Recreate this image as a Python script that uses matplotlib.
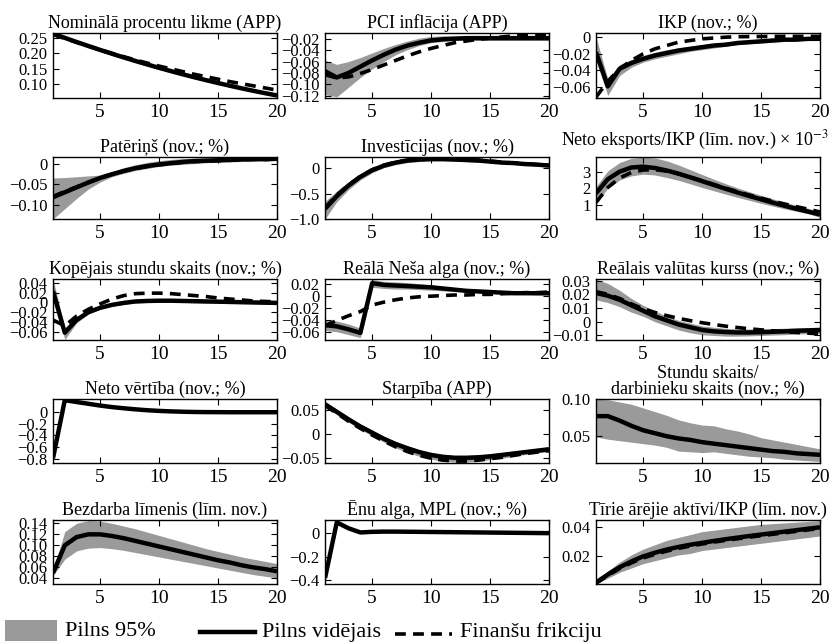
import matplotlib
matplotlib.use("Agg")
import matplotlib.pyplot as plt
from matplotlib.patches import Rectangle
from matplotlib.lines import Line2D

plt.rcParams["font.family"] = ["Liberation Serif", "DejaVu Serif"]
plt.rcParams["mathtext.fontset"] = "stix"

quarters = list(range(1, 21))

# ---- Nominālā procentu likme ----
rate_mean = [0.265, 0.251, 0.2374, 0.2242, 0.2113, 0.1988, 0.1866, 0.1748, 0.1634, 0.1523,
             0.1416, 0.1312, 0.1212, 0.1116, 0.1023, 0.0934, 0.0848, 0.0766, 0.0688, 0.0613]
rate_lo = [0.262, 0.247, 0.233, 0.219, 0.206, 0.193, 0.181, 0.169, 0.158, 0.147,
           0.136, 0.126, 0.116, 0.107, 0.098, 0.089, 0.081, 0.073, 0.065, 0.057]
rate_hi = [0.266, 0.253, 0.240, 0.227, 0.214, 0.202, 0.190, 0.178, 0.167, 0.156,
           0.145, 0.135, 0.125, 0.116, 0.107, 0.098, 0.090, 0.082, 0.074, 0.066]
rate_ff = [0.262, 0.249, 0.236, 0.224, 0.212, 0.200, 0.189, 0.178, 0.168, 0.158,
           0.149, 0.140, 0.131, 0.123, 0.115, 0.107, 0.100, 0.093, 0.086, 0.079]

# ---- PCI inflācija ----
infl_mean = [-0.077, -0.088, -0.080, -0.069, -0.058, -0.048, -0.039, -0.032, -0.027, -0.023,
             -0.021, -0.020, -0.019, -0.019, -0.019, -0.019, -0.019, -0.019, -0.019, -0.019]
infl_lo = [-0.118, -0.122, -0.105, -0.088, -0.073, -0.060, -0.048, -0.039, -0.032, -0.027,
           -0.025, -0.023, -0.023, -0.023, -0.023, -0.023, -0.023, -0.023, -0.023, -0.023]
infl_hi = [-0.058, -0.065, -0.060, -0.053, -0.045, -0.037, -0.030, -0.024, -0.019, -0.016,
           -0.015, -0.015, -0.015, -0.015, -0.015, -0.016, -0.016, -0.016, -0.016, -0.016]
infl_ff = [-0.083, -0.089, -0.087, -0.081, -0.074, -0.066, -0.058, -0.050, -0.043, -0.037,
           -0.032, -0.027, -0.024, -0.021, -0.019, -0.017, -0.015, -0.014, -0.013, -0.012]

# ---- IKP ----
gdp_mean = [-0.018, -0.059, -0.038, -0.031, -0.026, -0.022, -0.019, -0.016, -0.014, -0.012,
            -0.010, -0.009, -0.007, -0.006, -0.005, -0.004, -0.003, -0.003, -0.002, -0.002]
gdp_lo = [-0.028, -0.070, -0.046, -0.036, -0.030, -0.026, -0.023, -0.020, -0.017, -0.015,
          -0.013, -0.011, -0.009, -0.008, -0.007, -0.006, -0.005, -0.004, -0.004, -0.003]
gdp_hi = [0.000, -0.050, -0.033, -0.027, -0.022, -0.018, -0.015, -0.013, -0.011, -0.009,
          -0.008, -0.006, -0.005, -0.004, -0.003, -0.002, -0.002, -0.001, -0.001, -0.001]
gdp_ff = [-0.072, -0.053, -0.038, -0.028, -0.020, -0.014, -0.010, -0.006, -0.004, -0.002,
          -0.001, 0.000, 0.0005, 0.0007, 0.0008, 0.0009, 0.001, 0.001, 0.001, 0.001]

# ---- Patēriņš ----
cons_mean = [-0.082, -0.070, -0.058, -0.046, -0.035, -0.026, -0.018, -0.011, -0.006, -0.002,
             0.001, 0.004, 0.006, 0.007, 0.008, 0.009, 0.010, 0.011, 0.011, 0.012]
cons_lo = [-0.135, -0.110, -0.085, -0.062, -0.045, -0.032, -0.024, -0.017, -0.012, -0.007,
           -0.004, -0.002, 0.000, 0.002, 0.003, 0.004, 0.005, 0.006, 0.006, 0.007]
cons_hi = [-0.035, -0.034, -0.032, -0.030, -0.028, -0.020, -0.010, -0.003, 0.003, 0.007,
           0.010, 0.012, 0.013, 0.014, 0.014, 0.015, 0.015, 0.015, 0.015, 0.015]
cons_ff = [-0.080, -0.068, -0.057, -0.046, -0.035, -0.026, -0.018, -0.012, -0.007, -0.003,
           0.000, 0.003, 0.005, 0.006, 0.007, 0.008, 0.009, 0.010, 0.010, 0.011]

# ---- Investīcijas ----
inv_mean = [-0.80, -0.55, -0.34, -0.17, -0.04, 0.05, 0.11, 0.15, 0.17, 0.18,
            0.18, 0.17, 0.16, 0.15, 0.13, 0.11, 0.10, 0.08, 0.07, 0.05]
inv_lo = [-1.00, -0.66, -0.42, -0.23, -0.09, 0.01, 0.07, 0.11, 0.13, 0.14,
          0.14, 0.14, 0.13, 0.12, 0.11, 0.09, 0.08, 0.07, 0.06, 0.04]
inv_hi = [-0.65, -0.45, -0.27, -0.11, 0.01, 0.10, 0.16, 0.19, 0.21, 0.21,
          0.21, 0.20, 0.19, 0.17, 0.15, 0.13, 0.11, 0.09, 0.08, 0.06]
inv_ff = [-0.78, -0.53, -0.33, -0.16, -0.03, 0.06, 0.12, 0.16, 0.18, 0.19,
          0.19, 0.18, 0.17, 0.16, 0.14, 0.12, 0.10, 0.09, 0.07, 0.06]

# ---- Neto eksports/IKP (x 10^-3) ----
nx_mean = [1.70, 2.55, 3.00, 3.25, 3.30, 3.22, 3.07, 2.88, 2.66, 2.43,
           2.20, 1.97, 1.75, 1.54, 1.34, 1.14, 0.95, 0.77, 0.60, 0.43]
nx_lo = [1.10, 2.00, 2.50, 2.75, 2.85, 2.80, 2.65, 2.48, 2.27, 2.05,
         1.85, 1.65, 1.46, 1.28, 1.10, 0.93, 0.77, 0.62, 0.48, 0.25]
nx_hi = [2.10, 3.05, 3.55, 3.80, 3.87, 3.82, 3.65, 3.40, 3.12, 2.83,
         2.55, 2.28, 2.03, 1.80, 1.58, 1.37, 1.17, 0.98, 0.80, 0.60]
nx_ff = [1.15, 2.05, 2.62, 2.95, 3.10, 3.12, 3.03, 2.87, 2.67, 2.45,
         2.23, 2.01, 1.80, 1.60, 1.41, 1.23, 1.06, 0.90, 0.75, 0.58]

# ---- Kopējais stundu skaits ----
hrs_mean = [0.023, -0.062, -0.036, -0.020, -0.011, -0.005, -0.001, 0.002, 0.003, 0.0035,
            0.0035, 0.003, 0.0025, 0.002, 0.0015, 0.001, 0.0005, 0.0, -0.0005, -0.001]
hrs_lo = [0.015, -0.076, -0.042, -0.024, -0.014, -0.008, -0.004, -0.001, 0.000, 0.0005,
          0.0005, 0.000, -0.0005, -0.001, -0.0015, -0.002, -0.0025, -0.003, -0.0035, -0.004]
hrs_hi = [0.048, -0.052, -0.030, -0.016, -0.008, -0.002, 0.002, 0.005, 0.006, 0.0065,
          0.0065, 0.006, 0.0055, 0.005, 0.0045, 0.004, 0.0035, 0.003, 0.0025, 0.002]
hrs_ff = [-0.036, -0.048, -0.028, -0.014, -0.003, 0.007, 0.014, 0.018, 0.019, 0.019,
          0.018, 0.016, 0.014, 0.012, 0.009, 0.007, 0.005, 0.003, 0.002, 0.001]

# ---- Reālā Neša alga ----
wage_mean = [-0.049, -0.051, -0.056, -0.062, 0.022, 0.019, 0.018, 0.017, 0.016, 0.015,
             0.013, 0.011, 0.009, 0.008, 0.007, 0.006, 0.005, 0.005, 0.005, 0.005]
wage_lo = [-0.058, -0.060, -0.065, -0.070, 0.015, 0.013, 0.012, 0.012, 0.011, 0.010,
           0.009, 0.008, 0.007, 0.006, 0.005, 0.004, 0.003, 0.003, 0.002, 0.002]
wage_hi = [-0.040, -0.042, -0.047, -0.054, 0.028, 0.025, 0.024, 0.023, 0.021, 0.019,
           0.016, 0.014, 0.012, 0.010, 0.009, 0.008, 0.007, 0.007, 0.007, 0.008]
wage_ff = [-0.050, -0.041, -0.033, -0.026, -0.015, -0.010, -0.006, -0.003, -0.001, 0.000,
           0.001, 0.002, 0.002, 0.003, 0.003, 0.004, 0.005, 0.006, 0.006, 0.007]

# ---- Reālais valūtas kurss ----
rer_mean = [0.021, 0.019, 0.016, 0.012, 0.008, 0.004, 0.001, -0.002, -0.004, -0.006,
            -0.007, -0.0075, -0.0078, -0.0078, -0.0076, -0.0073, -0.007, -0.0066, -0.0063, -0.006]
rer_lo = [0.016, 0.014, 0.011, 0.007, 0.004, 0.000, -0.003, -0.006, -0.008, -0.0095,
          -0.010, -0.0105, -0.0105, -0.0103, -0.010, -0.0097, -0.0094, -0.009, -0.0087, -0.0085]
rer_hi = [0.031, 0.028, 0.023, 0.017, 0.012, 0.008, 0.004, 0.001, -0.001, -0.003,
          -0.004, -0.0048, -0.0052, -0.0053, -0.0052, -0.005, -0.0047, -0.0044, -0.0042, -0.004]
rer_ff = [0.022, 0.020, 0.017, 0.013, 0.0095, 0.0068, 0.0045, 0.0025, 0.0008, -0.0007,
          -0.002, -0.0032, -0.0042, -0.0051, -0.0059, -0.0066, -0.0072, -0.0078, -0.0083, -0.0088]

# ---- Neto vērtība ----
nw_mean = [-0.78, 0.19, 0.16, 0.13, 0.10, 0.075, 0.055, 0.037, 0.022, 0.011,
           0.003, -0.003, -0.007, -0.009, -0.010, -0.011, -0.011, -0.011, -0.011, -0.011]

# ---- Starpība ----
spr_mean = [0.063, 0.047, 0.031, 0.016, 0.003, -0.010, -0.021, -0.030, -0.038, -0.044,
            -0.048, -0.050, -0.050, -0.049, -0.047, -0.044, -0.041, -0.038, -0.035, -0.032]
spr_lo = [0.057, 0.041, 0.025, 0.010, -0.004, -0.017, -0.029, -0.039, -0.047, -0.053,
          -0.057, -0.059, -0.059, -0.057, -0.054, -0.051, -0.047, -0.043, -0.040, -0.037]
spr_hi = [0.068, 0.052, 0.036, 0.021, 0.008, -0.005, -0.016, -0.025, -0.033, -0.039,
          -0.043, -0.045, -0.045, -0.044, -0.042, -0.039, -0.036, -0.033, -0.030, -0.027]
spr_ff = [0.060, 0.044, 0.027, 0.012, -0.002, -0.015, -0.027, -0.037, -0.045, -0.051,
          -0.055, -0.057, -0.057, -0.055, -0.052, -0.049, -0.045, -0.041, -0.038, -0.035]

# ---- Stundu skaits / darbinieku skaits ----
hpw_mean = [0.077, 0.077, 0.071, 0.064, 0.058, 0.054, 0.050, 0.047, 0.045, 0.042,
            0.040, 0.038, 0.036, 0.034, 0.032, 0.030, 0.029, 0.027, 0.026, 0.025]
hpw_lo = [0.049, 0.046, 0.044, 0.042, 0.040, 0.038, 0.035, 0.030, 0.029, 0.028,
          0.029, 0.027, 0.025, 0.023, 0.022, 0.021, 0.019, 0.018, 0.017, 0.016]
hpw_hi = [0.100, 0.099, 0.096, 0.093, 0.088, 0.083, 0.078, 0.072, 0.068, 0.065,
          0.064, 0.060, 0.057, 0.053, 0.048, 0.045, 0.042, 0.039, 0.036, 0.033]

# ---- Bezdarba līmenis ----
une_mean = [0.050, 0.100, 0.115, 0.120, 0.120, 0.117, 0.113, 0.108, 0.103, 0.098,
            0.093, 0.088, 0.083, 0.078, 0.073, 0.069, 0.064, 0.060, 0.057, 0.053]
une_lo = [0.045, 0.075, 0.090, 0.095, 0.096, 0.094, 0.091, 0.087, 0.083, 0.079,
          0.075, 0.071, 0.067, 0.063, 0.059, 0.055, 0.051, 0.047, 0.044, 0.041]
une_hi = [0.055, 0.125, 0.140, 0.145, 0.144, 0.140, 0.135, 0.130, 0.124, 0.118,
          0.112, 0.106, 0.100, 0.094, 0.089, 0.084, 0.079, 0.075, 0.071, 0.067]

# ---- Ēnu alga, MPL ----
mpl_mean = [-0.38, 0.09, 0.04, 0.005, 0.010, 0.012, 0.012, 0.011, 0.010, 0.009,
            0.008, 0.007, 0.006, 0.005, 0.004, 0.003, 0.002, 0.001, 0.000, -0.001]

# ---- Tīrie ārējie aktīvi/IKP ----
nfa_mean = [0.002, 0.0075, 0.0125, 0.0165, 0.0200, 0.0225, 0.0247, 0.0265, 0.0280, 0.0293,
            0.0306, 0.0318, 0.0329, 0.0340, 0.0350, 0.0360, 0.0370, 0.0380, 0.0390, 0.0400]
nfa_lo = [0.001, 0.005, 0.009, 0.012, 0.015, 0.017, 0.019, 0.021, 0.022, 0.024,
          0.025, 0.026, 0.027, 0.028, 0.029, 0.030, 0.031, 0.032, 0.033, 0.034]
nfa_hi = [0.003, 0.010, 0.016, 0.021, 0.025, 0.028, 0.031, 0.033, 0.035, 0.037,
          0.038, 0.039, 0.040, 0.041, 0.042, 0.0425, 0.043, 0.0435, 0.044, 0.0445]
nfa_ff = [0.0015, 0.0068, 0.0116, 0.0155, 0.0189, 0.0214, 0.0236, 0.0255, 0.0271, 0.0285,
          0.0298, 0.0310, 0.0321, 0.0332, 0.0342, 0.0352, 0.0362, 0.0372, 0.0382, 0.0392]

x_ticks = [5, 10, 15, 20]

panels = [
    dict(title="Nominālā procentu likme (APP)", mean=rate_mean, lo=rate_lo, hi=rate_hi, ff=rate_ff,
         ylim=(0.053, 0.267), yticks=[0.10, 0.15, 0.20, 0.25], ylabels=["0.10", "0.15", "0.20", "0.25"]),
    dict(title="PCI inflācija (APP)", mean=infl_mean, lo=infl_lo, hi=infl_hi, ff=infl_ff,
         ylim=(-0.124, -0.010), yticks=[-0.12, -0.10, -0.08, -0.06, -0.04, -0.02],
         ylabels=["\u22120.12", "\u22120.10", "\u22120.08", "\u22120.06", "\u22120.04", "\u22120.02"]),
    dict(title="IKP (nov.; %)", mean=gdp_mean, lo=gdp_lo, hi=gdp_hi, ff=gdp_ff,
         ylim=(-0.073, 0.005), yticks=[-0.06, -0.04, -0.02, 0],
         ylabels=["\u22120.06", "\u22120.04", "\u22120.02", "0"]),
    dict(title="Patēriņš (nov.; %)", mean=cons_mean, lo=cons_lo, hi=cons_hi, ff=cons_ff,
         ylim=(-0.135, 0.016), yticks=[-0.10, -0.05, 0], ylabels=["\u22120.10", "\u22120.05", "0"]),
    dict(title="Investīcijas (nov.; %)", mean=inv_mean, lo=inv_lo, hi=inv_hi, ff=inv_ff,
         ylim=(-1.0, 0.22), yticks=[-1.0, -0.5, 0], ylabels=["\u22121.0", "\u22120.5", "0"]),
    dict(title="Neto eksports/IKP (līm. nov.) × 10$^{-3}$", mean=nx_mean, lo=nx_lo, hi=nx_hi, ff=nx_ff,
         ylim=(0.16, 3.88), yticks=[1, 2, 3], ylabels=["1", "2", "3"], title_right=829),
    dict(title="Kopējais stundu skaits (nov.; %)", mean=hrs_mean, lo=hrs_lo, hi=hrs_hi, ff=hrs_ff,
         ylim=(-0.077, 0.048), yticks=[-0.06, -0.04, -0.02, 0, 0.02, 0.04],
         ylabels=["\u22120.06", "\u22120.04", "\u22120.02", "0", "0.02", "0.04"]),
    dict(title="Reālā Neša alga (nov.; %)", mean=wage_mean, lo=wage_lo, hi=wage_hi, ff=wage_ff,
         ylim=(-0.074, 0.029), yticks=[-0.06, -0.04, -0.02, 0, 0.02],
         ylabels=["\u22120.06", "\u22120.04", "\u22120.02", "0", "0.02"]),
    dict(title="Reālais valūtas kurss (nov.; %)", mean=rer_mean, lo=rer_lo, hi=rer_hi, ff=rer_ff,
         ylim=(-0.0133, 0.0312), yticks=[-0.01, 0, 0.01, 0.02, 0.03],
         ylabels=["\u22120.01", "0", "0.01", "0.02", "0.03"]),
    dict(title="Neto vērtība (nov.; %)", mean=nw_mean, lo=None, hi=None, ff=None,
         ylim=(-0.86, 0.21), yticks=[-0.8, -0.6, -0.4, -0.2, 0],
         ylabels=["\u22120.8", "\u22120.6", "\u22120.4", "\u22120.2", "0"]),
    dict(title="Starpība (APP)", mean=spr_mean, lo=spr_lo, hi=spr_hi, ff=spr_ff,
         ylim=(-0.061, 0.074), yticks=[-0.05, 0, 0.05], ylabels=["\u22120.05", "0", "0.05"]),
    dict(title="Stundu skaits/\ndarbinieku skaits (nov.; %)", mean=hpw_mean, lo=hpw_lo, hi=hpw_hi, ff=None,
         ylim=(0.014, 0.100), yticks=[0.05, 0.10], ylabels=["0.05", "0.10"]),
    dict(title="Bezdarba līmenis (līm. nov.)", mean=une_mean, lo=une_lo, hi=une_hi, ff=None,
         ylim=(0.03, 0.146), yticks=[0.04, 0.06, 0.08, 0.10, 0.12, 0.14],
         ylabels=["0.04", "0.06", "0.08", "0.10", "0.12", "0.14"]),
    dict(title="Ēnu alga, MPL (nov.; %)", mean=mpl_mean, lo=None, hi=None, ff=None,
         ylim=(-0.43, 0.11), yticks=[-0.4, -0.2, 0], ylabels=["\u22120.4", "\u22120.2", "0"]),
    dict(title="Tīrie ārējie aktīvi/IKP (līm. nov.)", mean=nfa_mean, lo=nfa_lo, hi=nfa_hi, ff=nfa_ff,
         ylim=(0.001, 0.045), yticks=[0.02, 0.04], ylabels=["0.02", "0.04"]),
]

W, H = 830, 643
fig = plt.figure(figsize=(W / 100, H / 100), dpi=100)

col_left = [53, 325, 596]
col_width = 224
row_top = [33, 157, 279, 399, 520]
row_bottom = [98, 219, 340, 463, 584]

band_color = "#9a9a9a"
solid_lw = 3.2
dash_lw = 2.6
dash_style = (0, (3, 2))

for i, p in enumerate(panels):
    r, c = divmod(i, 3)
    left = col_left[c] / W
    bottom = 1 - row_bottom[r] / H
    height = (row_bottom[r] - row_top[r]) / H
    ax = fig.add_axes([left, bottom, col_width / W, height])
    if p["lo"] is not None:
        ax.fill_between(quarters, p["lo"], p["hi"], color=band_color, lw=0)
    ax.plot(quarters, p["mean"], color="black", lw=solid_lw, solid_capstyle="butt")
    if p["ff"] is not None:
        ax.plot(quarters, p["ff"], color="black", lw=dash_lw, ls=dash_style)
    ax.set_xlim(1, 20)
    ax.set_ylim(*p["ylim"])
    ax.set_xticks(x_ticks)
    ax.set_xticklabels([str(t) for t in x_ticks])
    ax.set_yticks(p["yticks"])
    ax.set_yticklabels(p["ylabels"])
    ax.tick_params(direction="in", top=True, right=True, length=4, width=0.8)
    ax.tick_params(axis="y", labelsize=12, pad=4)
    ax.tick_params(axis="x", labelsize=14, pad=4)
    for s in ax.spines.values():
        s.set_linewidth(1.0)
    if "title_right" in p:
        tx = (p["title_right"] - col_left[c]) / col_width
        ty = 1.0 + 5 / (row_bottom[r] - row_top[r])
        ax.text(tx, ty, p["title"], transform=ax.transAxes, ha="right", va="bottom",
                fontsize=13)
    else:
        ax.set_title(p["title"], fontsize=13, pad=4, linespacing=0.9)

# legend drawn in figure pixel coordinates along the bottom edge
def fx(px):
    return px / W

def fy(py):
    return 1 - py / H

fig.add_artist(Rectangle((fx(5), fy(641)), fx(57) - fx(5), fy(620) - fy(641),
                         transform=fig.transFigure, facecolor=band_color, edgecolor="none"))
fig.text(fx(65), fy(631), "Pilns 95%", fontsize=16, va="center", ha="left")
fig.add_artist(Line2D([fx(200), fx(255)], [fy(632), fy(632)], transform=fig.transFigure,
                      color="black", lw=solid_lw))
fig.text(fx(262), fy(632), "Pilns vidējais", fontsize=16, va="center", ha="left")
fig.add_artist(Line2D([fx(395), fx(452)], [fy(634), fy(634)], transform=fig.transFigure,
                      color="black", lw=dash_lw, ls=dash_style))
fig.text(fx(460), fy(632), "Finanšu frikciju", fontsize=16, va="center", ha="left")

fig.savefig("out.png", dpi=100)
